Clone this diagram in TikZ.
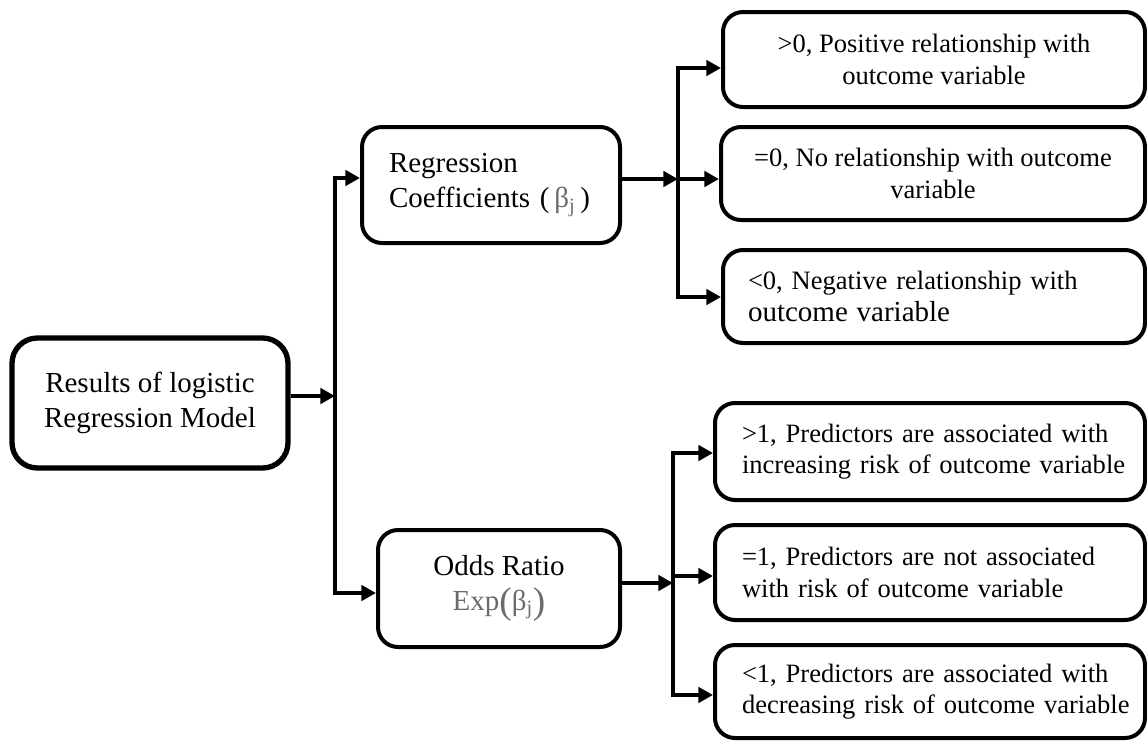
\documentclass[tikz,border=0pt]{standalone}
\usepackage{fontspec}
\setmainfont{Liberation Serif}
\usetikzlibrary{arrows.meta}
\def\u{0.75pt}
\newcommand{\bigfont}{\fontsize{21.75}{26.25}\selectfont}
\newcommand{\smfont}{\fontsize{19.9}{23.5}\selectfont}
\newcommand{\tallparen}[1]{\raisebox{-0.12em}{\fontsize{28}{28}\selectfont #1}}
\definecolor{greek}{gray}{0.42}
\begin{document}
\begin{tikzpicture}[x=0.75pt,y=-0.75pt,
  box/.style={draw, line width=3pt, rounded corners=15pt, inner sep=0pt},
  arr/.style={line width=3pt, line join=miter, -{Triangle[length=11pt,width=11.5pt]}},
]
\useasboundingbox (0,0) rectangle (1147,740);

% boxes
\node[box, line width=4pt, rounded corners=19pt, minimum width=276*\u, minimum height=130*\u,
      font=\bigfont, align=center] (L) at (150,403) {Results of logistic\\Regression Model};
\node[box, minimum width=258*\u, minimum height=116*\u, font=\bigfont, align=left, text width=204*\u]
      (R) at (491,185) {\mbox{Regression}\\\mbox{Coefficients (\,\textcolor{greek}{β\textsubscript{j}}\,)}};
\node[box, minimum width=242*\u, minimum height=117*\u, font=\bigfont, align=center]
      (O) at (499,588.5) {Odds Ratio\\\textcolor{greek}{Exp\tallparen{(}β\textsubscript{j}\tallparen{)}}};

\node[box, minimum width=422*\u, minimum height=95*\u, font=\smfont, align=center]
      (b1) at (934,59.5) {>0, Positive relationship with\\outcome variable};
\node[box, minimum width=424*\u, minimum height=93*\u, font=\smfont, align=center]
      (b2) at (933,173.5) {=0, No relationship with outcome\\variable};
\node[box, minimum width=422*\u, minimum height=93*\u, font=\smfont, align=left, text width=372*\u]
      (b3) at (934,296.5) {\mbox{<0, Negative relationship with}\\\mbox{\bigfont outcome variable}};

\node[box, minimum width=430*\u, minimum height=97*\u, font=\smfont, align=left, text width=376*\u]
      (b4) at (930,451.5) {\mbox{>1, Predictors are associated with}\\\mbox{increasing risk of outcome variable}};
\node[box, minimum width=430*\u, minimum height=95*\u, font=\smfont, align=left, text width=376*\u]
      (b5) at (930,572.5) {\mbox{=1, Predictors are not associated}\\\mbox{with risk of outcome variable}};
\node[box, minimum width=430*\u, minimum height=93*\u, font=\smfont, align=left, text width=376*\u]
      (b6) at (930,691.5) {\mbox{<1, Predictors are associated with}\\\mbox{decreasing risk of outcome variable}};

% left fork
\coordinate (jL) at (335,396);
\coordinate (jLt) at (335,178);
\coordinate (jLb) at (335,593);
\draw[arr] (L.east |- jL) -- (jL);
\draw[arr] (jLb) -- (jLt) -- (jLt -| R.west);
\draw[arr] (jLt) -- (jLb) -- (jLb -| O.west);

% upper right fork
\coordinate (f1t) at (678,68);
\coordinate (f1m) at (678,179);
\coordinate (f1b) at (678,297);
\draw[arr] (R.east |- f1m) -- (f1m);
\draw[arr] (f1b) -- (f1t) -- (f1t -| b1.west);
\draw[arr] (f1t) -- (f1b) -- (f1b -| b3.west);
\draw[arr] (f1m) -- (f1m -| b2.west);

% lower right fork
\coordinate (f2t) at (673,453);
\coordinate (f2in) at (673,583);
\coordinate (f2m) at (673,576);
\coordinate (f2b) at (673,695);
\draw[arr] (O.east |- f2in) -- (f2in);
\draw[arr] (f2b) -- (f2t) -- (f2t -| b4.west);
\draw[arr] (f2t) -- (f2b) -- (f2b -| b6.west);
\draw[arr] (f2m) -- (f2m -| b5.west);
\end{tikzpicture}
\end{document}
